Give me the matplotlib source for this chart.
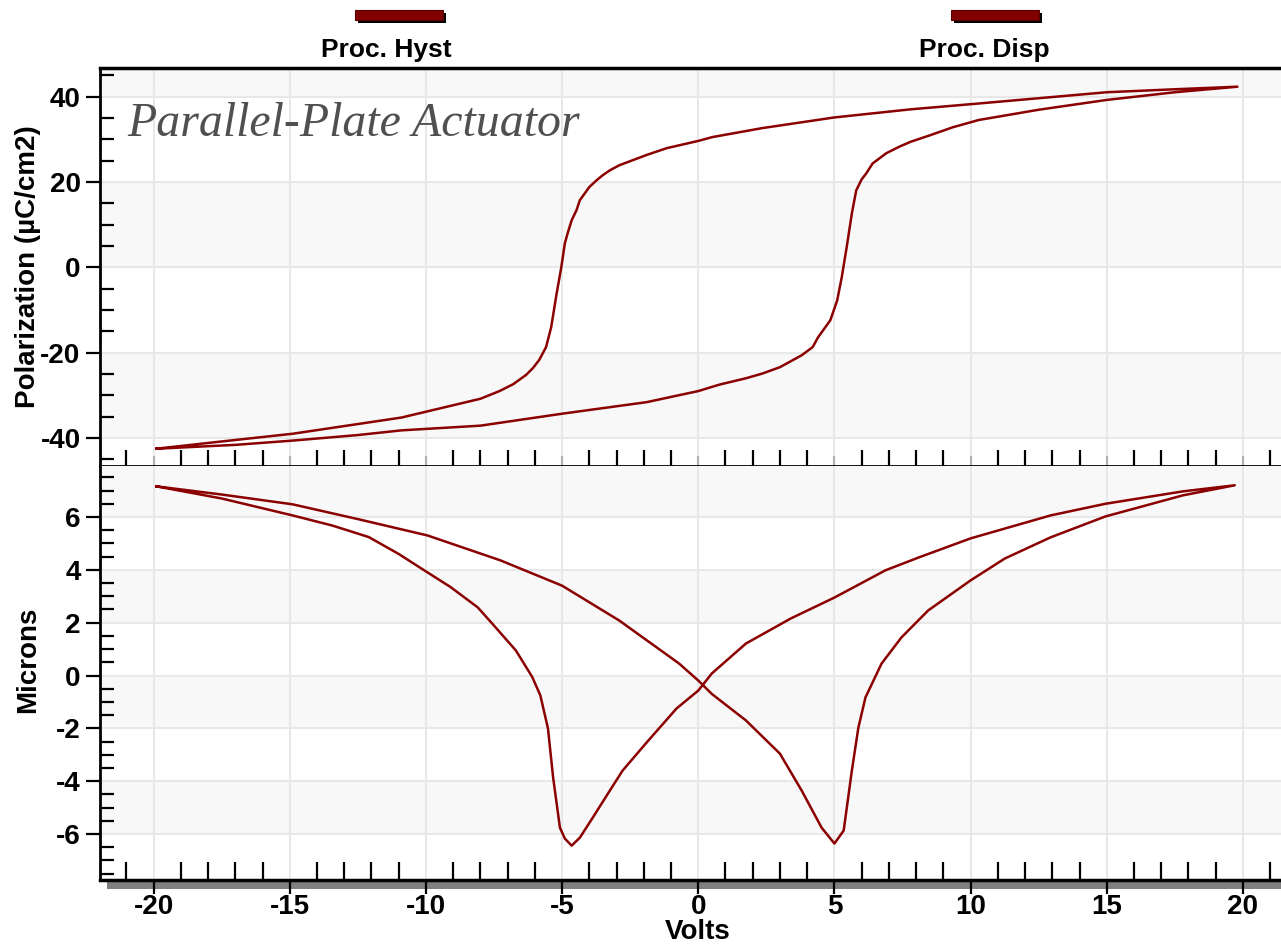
import numpy as np
import matplotlib
matplotlib.use("Agg")
import matplotlib.pyplot as plt
from matplotlib.patches import Rectangle
from matplotlib.ticker import MultipleLocator

# ----------------------------------------------------------------------
# Data
# ----------------------------------------------------------------------
# Polarization loop, ascending sweep (-20 V -> +20 V)
hyst_up_v = [-19.9, -17.0, -14.9, -12.5, -10.9, -8.0, -5.0, -1.9, 0.0, 0.77, 1.75,
             2.35, 3.0, 3.6, 3.8, 4.2, 4.4, 4.85, 5.1, 5.27, 5.45, 5.64, 5.8,
             6.0, 6.17, 6.4, 6.9, 7.4, 7.8, 8.5, 9.35, 10.3, 12.5, 15.0, 17.5, 19.8]
hyst_up_p = [-42.5, -41.6, -40.6, -39.3, -38.2, -37.1, -34.3, -31.6, -29.0, -27.5, -26.0,
             -24.9, -23.4, -21.3, -20.6, -18.7, -16.4, -12.4, -7.8, -2.3, 4.7, 12.6, 18.0,
             20.6, 22.0, 24.3, 26.7, 28.3, 29.4, 30.9, 32.8, 34.5, 36.9, 39.2, 41.0, 42.3]
# Polarization loop, descending sweep (+20 V -> -20 V)
hyst_dn_v = [19.8, 17.5, 15.0, 12.5, 10.0, 7.8, 5.0, 2.35, 0.52, 0.0, -1.16, -1.9,
             -2.4, -2.9, -3.25, -3.5, -3.73, -4.0, -4.17, -4.35, -4.47, -4.65, -4.8,
             -4.9, -5.03, -5.2, -5.4, -5.59, -5.84, -6.07, -6.32, -6.8, -7.3, -8.0,
             -10.9, -14.9, -17.5, -19.9]
hyst_dn_p = [42.3, 41.7, 41.0, 39.6, 38.2, 37.0, 35.1, 32.6, 30.5, 29.6, 27.9, 26.3,
             25.1, 23.9, 22.7, 21.6, 20.4, 18.8, 17.3, 15.7, 13.4, 11.0, 7.9,
             5.6, 0.0, -6.1, -14.0, -18.7, -21.7, -23.6, -25.2, -27.4, -29.0, -30.8,
             -35.2, -39.0, -40.8, -42.5]

# Displacement butterfly, ascending sweep
disp_up_v = [-19.9, -17.5, -14.9, -12.5, -9.94, -7.27, -5.0, -2.9, -0.7, 0.0,
             0.5, 1.75, 3.0, 3.8, 4.53, 5.0, 5.34, 5.64, 5.88, 6.14, 6.73,
             7.46, 8.44, 10.0, 11.26, 12.94, 14.95, 17.8, 19.7]
disp_up_d = [7.16, 6.85, 6.48, 5.92, 5.3, 4.36, 3.4, 2.08, 0.45, -0.19,
             -0.7, -1.7, -2.96, -4.36, -5.76, -6.36, -5.87, -3.6, -1.97, -0.83, 0.45,
             1.44, 2.46, 3.6, 4.43, 5.23, 6.02, 6.82, 7.2]
# Displacement butterfly, descending sweep
disp_dn_v = [19.7, 17.8, 14.95, 12.94, 10.0, 8.1, 6.87, 5.0, 3.4, 1.75, 0.5, 0.0,
             -0.8, -1.9, -2.78, -3.25, -3.9, -4.35, -4.65, -4.9, -5.08, -5.33,
             -5.52, -5.8, -6.1, -6.7, -7.57, -8.1, -9.1, -9.94, -11.0, -12.1,
             -13.45, -14.9, -17.5, -19.9]
disp_dn_d = [7.2, 6.97, 6.5, 6.06, 5.19, 4.47, 3.98, 2.95, 2.16, 1.21, 0.08, -0.57,
             -1.25, -2.54, -3.6, -4.36, -5.42, -6.14, -6.44, -6.17, -5.76, -3.86,
             -2.0, -0.75, -0.05, 0.95, 1.97, 2.58, 3.35, 3.9, 4.6, 5.24,
             5.68, 6.06, 6.7, 7.16]

LEGEND_LABELS = ["Proc. Hyst", "Proc. Disp"]
TITLE = "Parallel-Plate Actuator"

# ----------------------------------------------------------------------
# Style
# ----------------------------------------------------------------------
W, H = 1281, 944
LINE_COLOR = "#8b0000"
BAND_COLOR = "#f8f8f8"
GRID_COLOR = "#e8e8e8"

plt.rcParams["font.family"] = ["Liberation Sans", "DejaVu Sans"]
plt.rcParams["font.weight"] = "bold"
plt.rcParams["axes.unicode_minus"] = False


def fx(x):
    return x / W


def fy(y):
    return 1 - y / H


fig = plt.figure(figsize=(W / 100, H / 100), dpi=100)

ax_p = fig.add_axes([fx(100), fy(466), (1290 - 100) / W, (466 - 68) / H])
ax_d = fig.add_axes([fx(100), fy(880), (1290 - 100) / W, (880 - 466) / H], sharex=ax_p)

# closed loops: ascending then descending
ax_p.plot(hyst_up_v + hyst_dn_v, hyst_up_p + hyst_dn_p, color=LINE_COLOR, lw=1.8, zorder=3)
ax_d.plot(disp_up_v + disp_dn_v, disp_up_d + disp_dn_d, color=LINE_COLOR, lw=1.8, zorder=3)

ax_p.set_xlim(-21.97, 21.73)
ax_p.set_ylim(-46.55, 46.68)
ax_d.set_ylim(-7.74, 7.93)

for ax, ymaj, ymin in [(ax_p, 20, 5), (ax_d, 2, 0.5)]:
    ax.set_axisbelow(True)
    ax.xaxis.set_major_locator(MultipleLocator(5))
    ax.xaxis.set_minor_locator(MultipleLocator(1))
    ax.yaxis.set_major_locator(MultipleLocator(ymaj))
    ax.yaxis.set_minor_locator(MultipleLocator(ymin))
    ax.grid(which="major", color=GRID_COLOR, lw=1.5)
    # alternating horizontal bands between major gridlines
    lo, hi = ax.get_ylim()
    k = np.floor(lo / ymaj)
    while k * ymaj < hi:
        if int(k) % 2 == (1 if ax is ax_d else 0):
            ax.axhspan(k * ymaj, (k + 1) * ymaj, color=BAND_COLOR, lw=0, zorder=0)
        k += 1
    ax.tick_params(axis="y", which="major", direction="out", length=10, width=1.6,
                   labelsize=20, pad=4)
    ax.tick_params(axis="y", which="minor", direction="in", length=10, width=1.6)
    ax.spines["right"].set_visible(False)
    ax.spines["left"].set_linewidth(2)
    for lab in ax.get_yticklabels():
        lab.set_fontweight("bold")

# top panel x axis: ticks only at the shared edge
ax_p.tick_params(axis="x", which="major", direction="inout", length=14, width=1.5,
                 color="#b0b0b0", labelbottom=False)
ax_p.tick_params(axis="x", which="minor", direction="in", length=11.5, width=1.6)
ax_p.spines["top"].set_linewidth(2.5)
ax_p.spines["bottom"].set_linewidth(2)

ax_d.spines["top"].set_visible(False)
ax_d.spines["bottom"].set_linewidth(2.5)
ax_d.tick_params(axis="x", which="major", direction="out", length=10, width=1.6,
                 labelsize=20, pad=0)
ax_d.tick_params(axis="x", which="minor", direction="in", length=13, width=1.6)
for lab in ax_d.get_xticklabels():
    lab.set_fontweight("bold")

# gray shadow under the bottom axis
fig.add_artist(Rectangle((fx(107), fy(889)), 1 - fx(107), 8 / H, transform=fig.transFigure,
                         facecolor="#808080", edgecolor="none", zorder=-1))

# axis labels
fig.text(fx(28), fy(267), "Polarization (\u00b5C/cm2)", rotation=90, ha="center",
         va="center", fontsize=20, fontweight="bold")
fig.text(fx(28), fy(660), "Microns", rotation=90, ha="center", va="center",
         fontsize=20, fontweight="bold")
fig.text(fx(698), fy(932), "Volts", ha="center", va="center", fontsize=20,
         fontweight="bold")

# chart title inside the top panel
ax_p.text(0.0228, 0.829, TITLE, transform=ax_p.transAxes, ha="left", va="baseline",
          fontsize=34.5, style="italic", fontweight="normal", color="#505050",
          family=["Liberation Serif", "DejaVu Serif"])

# legend bars with labels across the top
for label, text_x, bar_x in zip(LEGEND_LABELS, [386, 984], [355, 951]):
    fig.add_artist(Rectangle((fx(bar_x + 3), fy(23)), 88 / W, 10 / H,
                             transform=fig.transFigure, facecolor="black",
                             edgecolor="none"))
    fig.add_artist(Rectangle((fx(bar_x), fy(20)), 88 / W, 10 / H,
                             transform=fig.transFigure, facecolor="#800000",
                             edgecolor="#5a0000", lw=0.8))
    fig.text(fx(text_x), fy(50), label, ha="center", va="center", fontsize=19,
             fontweight="bold")

plt.savefig("out.png", dpi=100)
